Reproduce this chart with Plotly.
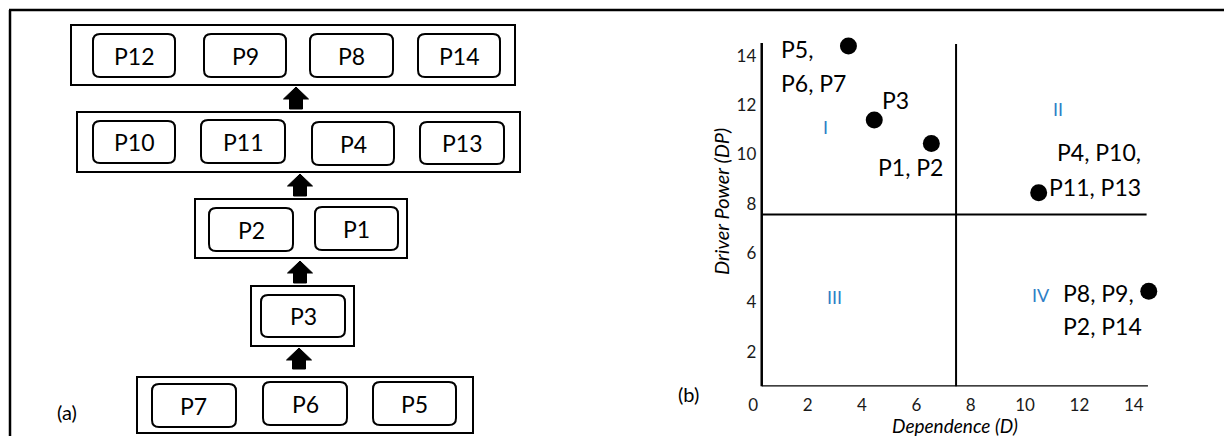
import plotly.graph_objects as go

# ---------------- panel (a): ISM hierarchy levels (top -> bottom)
level_labels = [
    ["P12", "P9", "P8", "P14"],
    ["P10", "P11", "P4", "P13"],
    ["P2", "P1"],
    ["P3"],
    ["P7", "P6", "P5"],
]

# ---------------- panel (b): MICMAC data
dependence = [3.5, 4.45, 6.55, 10.5, 14.55]
driver_power = [14.4, 11.4, 10.45, 8.45, 4.45]
group_labels = [
    ["P5,", "P6, P7"],
    ["P3"],
    ["P1, P2"],
    ["P4, P10,", "P11, P13"],
    ["P8, P9,", "P2, P14"],
]
x_ticks = [0, 2, 4, 6, 8, 10, 12, 14]
y_ticks = [2, 4, 6, 8, 10, 12, 14]
quadrant_names = ["I", "II", "III", "IV"]
dependence_split = 7.46
driver_split = 7.57

# ---------------- page geometry (the page body adds an 8px margin)
OFF = 8
W, H = 1232 - OFF, 436 - OFF

# ---------------- geometry (reference pixels) for the diagram
outer_rects = [(71, 25, 515, 85), (77, 112, 520, 172), (195, 199, 407, 258),
               (251, 286, 354, 346), (137, 377, 473, 433)]
box_rects = [
    [(93, 34, 175, 77), (204, 34, 286, 77), (310, 34, 393, 77), (418, 34, 500, 77)],
    [(93, 121, 175, 163), (201, 120, 285, 163), (312, 122, 394, 165), (420, 122, 504, 164)],
    [(209, 208, 293, 251), (315, 207, 398, 250)],
    [(261, 295, 345, 337)],
    [(152, 384, 236, 427), (263, 382, 347, 425), (373, 382, 456, 425)],
]
arrows = [(296, 87, 109), (300, 174, 196), (300, 261, 283), (299, 348, 369)]

# label positions for panel (b), data units: (x, y, xanchor)
group_label_pos = [
    [(0.95, 14.28, "left"), (0.95, 12.90, "left")],
    [(4.66, 12.21, "left")],
    [(4.51, 9.49, "left")],
    [(14.34, 10.10, "right"), (14.34, 8.68, "right")],
    [(11.32, 4.38, "left"), (11.32, 3.04, "left")],
]
quadrant_pos = [(2.67, 11.12), (11.21, 11.85), (3.0, 4.22), (10.59, 4.30)]

FONT = "Lato, 'Open Sans', sans-serif"
BLUE = "#2E80C6"


def px(x):
    return (x - OFF) / W


def py(y):
    return 1 - (y - OFF) / H


shapes = []
annotations = []

# outer frame (left + top)
shapes.append(dict(type="line", xref="paper", yref="paper", x0=px(10), x1=px(10),
                   y0=py(10), y1=0, line=dict(color="black", width=2.5)))
shapes.append(dict(type="line", xref="paper", yref="paper", x0=px(9), x1=1,
                   y0=py(10), y1=py(10), line=dict(color="black", width=2.5)))


def rounded_path(l, t, r, b, rad=7):
    rx, ry = rad / W, rad / H
    L, R, T, B = px(l), px(r), py(t), py(b)
    return (f"M {L+rx},{T} L {R-rx},{T} Q {R},{T} {R},{T-ry} L {R},{B+ry} "
            f"Q {R},{B} {R-rx},{B} L {L+rx},{B} Q {L},{B} {L},{B+ry} "
            f"L {L},{T-ry} Q {L},{T} {L+rx},{T} Z")


for lvl, labels in enumerate(level_labels):
    l, t, r, b = outer_rects[lvl]
    shapes.append(dict(type="rect", xref="paper", yref="paper", x0=px(l), x1=px(r),
                       y0=py(b), y1=py(t), line=dict(color="black", width=2)))
    for lab, (bl, bt, br, bb) in zip(labels, box_rects[lvl]):
        shapes.append(dict(type="path", xref="paper", yref="paper",
                           path=rounded_path(bl, bt, br, bb),
                           line=dict(color="black", width=2)))
        annotations.append(dict(xref="paper", yref="paper", x=px((bl + br) / 2),
                                y=py((bt + bb) / 2), text=lab, showarrow=False,
                                xanchor="center", yanchor="middle",
                                font=dict(family=FONT, size=23, color="black")))

for cx, tip, bottom in arrows:
    hb = tip + 12
    pts = [(cx, tip), (cx + 12.5, hb), (cx + 6.5, hb), (cx + 6.5, bottom),
           (cx - 6.5, bottom), (cx - 6.5, hb), (cx - 12.5, hb)]
    path = "M " + " L ".join(f"{px(a)},{py(c)}" for a, c in pts) + " Z"
    shapes.append(dict(type="path", xref="paper", yref="paper", path=path,
                       fillcolor="black", line=dict(color="black", width=1)))

annotations.append(dict(xref="paper", yref="paper", x=px(67), y=py(412), text="(a)",
                        showarrow=False, xanchor="center", yanchor="middle",
                        font=dict(family=FONT, size=20, color="black")))
annotations.append(dict(xref="paper", yref="paper", x=px(688), y=py(394), text="(b)",
                        showarrow=False, xanchor="center", yanchor="middle",
                        font=dict(family=FONT, size=20, color="black")))

# ---------------- panel (b) chart
x_axis_at = 0.31   # where the drawn axis lines sit
y_axis_at = 0.59
x_top = 14.52
y_top = 14.52

fig = go.Figure()
fig.add_trace(go.Scatter(x=dependence, y=driver_power, mode="markers",
                         marker=dict(size=17, color="black"),
                         cliponaxis=False, hoverinfo="skip", showlegend=False))

line_style = dict(color="black", width=2.5)
shapes += [
    dict(type="line", xref="x", yref="y", x0=x_axis_at, x1=x_axis_at,
         y0=y_axis_at, y1=y_top, line=line_style),
    dict(type="line", xref="x", yref="y", x0=x_axis_at, x1=x_top,
         y0=y_axis_at, y1=y_axis_at, line=line_style),
    dict(type="line", xref="x", yref="y", x0=dependence_split, x1=dependence_split,
         y0=y_axis_at, y1=14.48, line=dict(color="black", width=2)),
    dict(type="line", xref="x", yref="y", x0=x_axis_at, x1=14.47,
         y0=driver_split, y1=driver_split, line=dict(color="black", width=2)),
]

for labs, poss in zip(group_labels, group_label_pos):
    for lab, (x, y, xa) in zip(labs, poss):
        annotations.append(dict(xref="x", yref="y", x=x, y=y, text=lab, xanchor=xa,
                                yanchor="middle", showarrow=False,
                                font=dict(family=FONT, size=23, color="black")))

for name, (x, y) in zip(quadrant_names, quadrant_pos):
    annotations.append(dict(xref="x", yref="y", x=x, y=y, text=name, showarrow=False,
                            xanchor="center", yanchor="middle",
                            font=dict(family=FONT, size=18, color=BLUE)))

annotations.append(dict(xref="paper", yref="paper", x=px(955), y=py(425),
                        text="<i>Dependence (D)</i>", showarrow=False,
                        xanchor="center", yanchor="middle",
                        font=dict(family=FONT, size=19, color="black")))
annotations.append(dict(xref="paper", yref="paper", x=px(721), y=py(202),
                        text="<i>Driver Power (DP)</i>", textangle=-90, showarrow=False,
                        xanchor="center", yanchor="middle",
                        font=dict(family=FONT, size=20, color="black")))

# axis pixel calibration (reference px): x value v -> 753.3 + 27.18 v ; y value v -> 401 - 24.65 v
x_range = [-0.5, 15.0]
y_range = [y_axis_at, 14.6]
x_dom = [px(753.3 + 27.18 * x_range[0]), px(753.3 + 27.18 * x_range[1])]
y_dom = [py(401 - 24.65 * y_range[0]), py(401 - 24.65 * y_range[1])]

fig.update_layout(
    width=W, height=H,
    margin=dict(l=0, r=0, t=0, b=0, autoexpand=False),
    paper_bgcolor="white", plot_bgcolor="rgba(0,0,0,0)",
    shapes=shapes, annotations=annotations,
    xaxis=dict(domain=x_dom, range=x_range, tickvals=x_ticks, showgrid=False,
               zeroline=False, showline=False, ticks="outside", ticklen=3,
               tickcolor="rgba(0,0,0,0)", anchor="y", automargin=False,
               tickfont=dict(family=FONT, size=17, color="#1a1a1a")),
    yaxis=dict(domain=y_dom, range=y_range, tickvals=y_ticks, showgrid=False,
               zeroline=False, showline=False, ticks="outside", ticklen=2,
               tickcolor="rgba(0,0,0,0)", anchor="free",
               automargin=False, position=px(753.3 + 27.18 * x_axis_at),
               tickfont=dict(family=FONT, size=17, color="#1a1a1a")),
    showlegend=False,
)

fig.write_html("out.html")
